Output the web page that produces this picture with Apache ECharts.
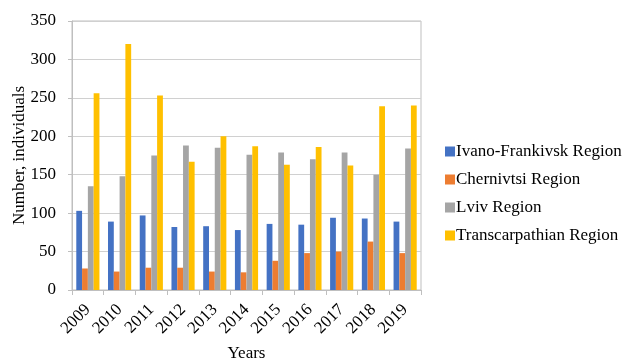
<!DOCTYPE html>
<html>
<head>
<meta charset="utf-8">
<script src="https://cdn.jsdelivr.net/npm/echarts@6/dist/echarts.min.js"></script>
<style>
  html, body { margin: 0; padding: 0; background: #fff; }
  #chart { width: 624px; height: 360px; }
</style>
</head>
<body>
<div id="chart"></div>
<script>
// Years on the category axis
const years = ['2009', '2010', '2011', '2012', '2013', '2014', '2015', '2016', '2017', '2018', '2019'];

// Number of individuals per region
const ivanoFrankivsk = [103, 89, 97, 82, 83, 78, 86, 85, 94, 93, 89];
const chernivtsi = [28, 24, 29, 29, 24, 23, 38, 48, 50, 63, 48];
const lviv = [135, 148, 175, 188, 185, 176, 179, 170, 179, 150, 184];
const transcarpathian = [256, 320, 253, 167, 200, 187, 163, 186, 162, 239, 240];

const seriesNames = ['Ivano-Frankivsk Region', 'Chernivtsi Region', 'Lviv Region', 'Transcarpathian Region'];
const seriesData = [ivanoFrankivsk, chernivtsi, lviv, transcarpathian];
const colors = ['#4472C4', '#ED7D31', '#A5A5A5', '#FFC000'];

const serif = '"Liberation Serif", "DejaVu Serif", serif';
const fs = 17;

const chart = echarts.init(document.getElementById('chart'));
chart.setOption({
  animation: false,
  color: colors,
  grid: {
    left: 72, right: 203, top: 21, bottom: 70,
    outerBoundsMode: 'none',
    containLabel: false,
    show: true, borderColor: '#bfbfbf', borderWidth: 1
  },
  legend: {
    orient: 'vertical',
    left: 440, top: 138,
    itemWidth: 10, itemHeight: 10, itemGap: 11,
    icon: 'rect',
    textStyle: { fontFamily: serif, fontSize: fs, color: '#000', padding: [0, 0, 0, -4] },
    data: seriesNames
  },
  xAxis: {
    type: 'category',
    data: years,
    name: 'Years',
    nameLocation: 'middle',
    nameGap: 55,
    nameMoveOverlap: false,
    nameTextStyle: { fontFamily: serif, fontSize: fs, color: '#000' },
    axisLine: { lineStyle: { color: '#bfbfbf' } },
    axisTick: { show: true, length: 5, lineStyle: { color: '#bfbfbf' } },
    axisLabel: { interval: 0, rotate: 45, fontFamily: serif, fontSize: fs, color: '#000', margin: 17 }
  },
  yAxis: {
    type: 'value',
    min: 0, max: 350, interval: 50,
    name: 'Number, individuals',
    nameLocation: 'middle',
    nameGap: 44,
    nameMoveOverlap: false,
    nameTextStyle: { fontFamily: serif, fontSize: fs, color: '#000' },
    axisLine: { show: true, lineStyle: { color: '#bfbfbf' } },
    axisTick: { show: true, length: 4, lineStyle: { color: '#bfbfbf' } },
    axisLabel: { fontFamily: serif, fontSize: fs, color: '#000', margin: 16 },
    splitLine: { lineStyle: { color: '#d0d0d0' } }
  },
  series: seriesNames.map((name, i) => ({
    name: name,
    type: 'bar',
    data: seriesData[i],
    barGap: '0%',
    barCategoryGap: '27%'
  }))
});
</script>
</body>
</html>
